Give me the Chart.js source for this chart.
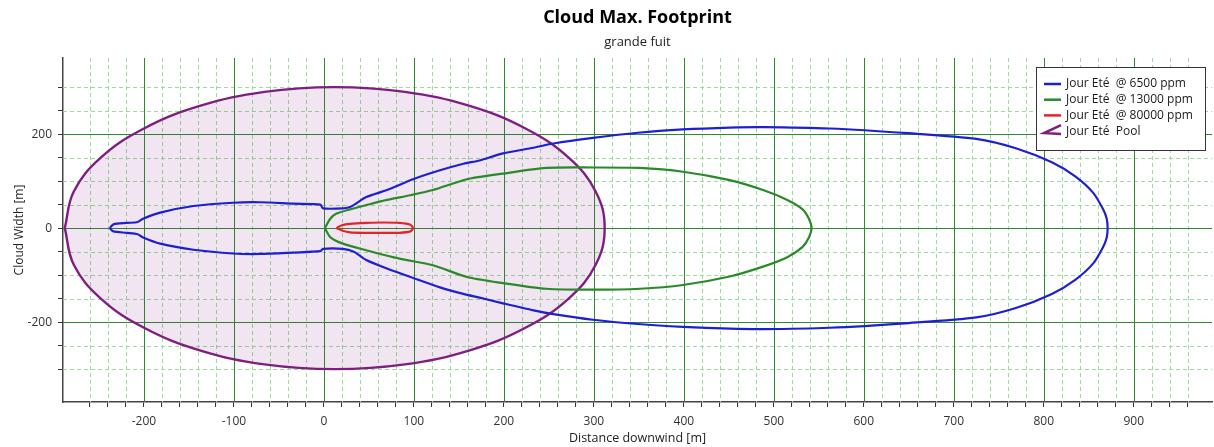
<!DOCTYPE html>
<html>
<head>
<meta charset="utf-8">
<title>Cloud Max. Footprint</title>
<script src="https://cdn.jsdelivr.net/npm/chart.js@4.4.1/dist/chart.umd.min.js"></script>
<style>
  html, body { margin: 0; padding: 0; background: #ffffff; }
  #wrap { width: 1214px; height: 447px; position: relative; }
</style>
</head>
<body>
<div id="wrap"><canvas id="chart" width="1214" height="447"></canvas></div>
<script>
// ---- Series labels ----
const seriesLabels = [
  'Jour Eté  @ 6500 ppm',
  'Jour Eté  @ 13000 ppm',
  'Jour Eté  @ 80000 ppm',
  'Jour Eté  Pool'
];

// ---- 6500 ppm contour (upper edge left→right, then lower edge right→left) ----
const c6500X = [-238, -234, -219, -207, -201, -182, -145, -101, -71, -34, -4, -1, 21, 29, 33, 47, 70, 99, 129, 155, 173, 199, 233, 255, 299, 349, 399, 451, 488, 562, 650, 725, 769, 809, 835, 855, 866, 870, 871,
                870, 866, 855, 835, 809, 769, 725, 650, 562, 488, 451, 399, 349, 299, 255, 233, 199, 173, 155, 129, 99, 70, 47, 33, 21, -1, -4, -34, -71, -101, -145, -182, -201, -207, -219, -234, -238];
const c6500Y = [0, 8, 11, 13, 20, 33, 47, 54, 55, 52, 50, 42, 42, 45, 49, 66, 81, 104, 123, 137, 144, 159, 171, 180, 192, 203, 210, 214, 215, 212, 202, 190, 170, 140, 110, 75, 40, 20, 0,
                -20, -40, -75, -110, -140, -170, -190, -202, -212, -215, -214, -210, -204, -195, -183, -175, -160, -148, -140, -126, -106, -86, -68, -50, -44, -44, -49, -52, -55, -54, -46, -33, -20, -13, -10, -7, 0];

// ---- 13000 ppm contour ----
const c13000X = [1, 7, 14, 29, 47, 70, 96, 121, 159, 199, 247, 299, 351, 399, 451, 488, 515, 532, 539, 542,
                 539, 532, 515, 488, 451, 399, 351, 299, 247, 199, 159, 121, 84, 47, 21, 7, 1];
const c13000Y = [0, 20, 31, 40, 49, 60, 70, 81, 104, 116, 128, 129, 128, 120, 102, 81, 60, 40, 20, 0,
                 -20, -40, -62, -82, -103, -121, -129, -131, -129, -117, -104, -79, -65, -47, -33, -19, 0];

// ---- 80000 ppm contour ----
const c80000X = [14, 20, 29, 47, 66, 84, 96, 99, 96, 84, 66, 47, 29, 20, 14];
const c80000Y = [0, 6, 9, 11, 12, 11, 7, 0, -7, -10, -10, -10, -9, -5, 0];

// ---- Pool outline ----
const poolX = [-288, -278, -248, -200, -138, -66, 12, 90, 162, 224, 272, 302, 312, 302, 272, 224, 162, 90, 12, -66, -138, -200, -248, -278, -288];
const poolY = [0, 78, 150, 212, 260, 290, 300, 290, 260, 212, 150, 78, 0, -78, -150, -212, -260, -290, -300, -290, -260, -212, -150, -78, 0];

// ---- Axis ranges, grid steps and tick labels ----
const xRange = [-290, 987];
const yRange = [-370, 362];
const xMinorStep = 20, xMajorStep = 100;
const yMinorStep = 50, yMajorStep = 200;
const xTickLabels = [-200, -100, 0, 100, 200, 300, 400, 500, 600, 700, 800, 900];
const yTickLabels = [-200, 0, 200];

const colors = ['#1f1fd2', '#2a8a2a', '#e0262a', '#7e1f80'];
const MAJOR_GRID = '#2f8a2f';
const MINOR_GRID = '#9edb9e';
const FONT = "'Open Sans', 'Noto Sans', 'DejaVu Sans', sans-serif";

const toPoints = (xs, ys) => xs.map((x, i) => ({ x: x, y: ys[i] }));
const isMult = (v, m) => Math.abs(v / m - Math.round(v / m)) < 1e-9;

const lineSet = (label, xs, ys, color, order, extra) => Object.assign({
  label: label,
  data: toPoints(xs, ys),
  showLine: true,
  borderColor: color,
  backgroundColor: color,
  borderWidth: 2.2,
  pointRadius: 0,
  pointHoverRadius: 0,
  tension: 0.25,
  order: order
}, extra || {});

// Grid: dashed minor lines at every scale tick, solid major lines on top
const plotGrid = {
  id: 'plotGrid',
  beforeDatasetsDraw(chart) {
    const { ctx, chartArea: ca, scales } = chart;
    const pass = (major) => {
      ctx.beginPath();
      scales.x.ticks.forEach(t => {
        if (isMult(t.value, xMajorStep) !== major) return;
        const px = Math.round(scales.x.getPixelForValue(t.value)) + 0.5;
        ctx.moveTo(px, ca.top);
        ctx.lineTo(px, ca.bottom);
      });
      scales.y.ticks.forEach(t => {
        if (isMult(t.value, yMajorStep) !== major) return;
        const py = Math.round(scales.y.getPixelForValue(t.value)) + 0.5;
        ctx.moveTo(ca.left, py);
        ctx.lineTo(ca.right, py);
      });
      ctx.stroke();
    };
    ctx.save();
    ctx.lineWidth = 1;
    ctx.strokeStyle = MINOR_GRID;
    ctx.setLineDash([4, 3]);
    pass(false);
    ctx.strokeStyle = MAJOR_GRID;
    ctx.setLineDash([]);
    pass(true);
    ctx.restore();
  }
};

// Legend box drawn inside the plot area, top-right
const boxLegend = {
  id: 'boxLegend',
  afterDraw(chart) {
    const ctx = chart.ctx;
    const ca = chart.chartArea;
    const w = 169, h = 83;
    const x0 = ca.right - 7 - w, y0 = ca.top + 9;
    ctx.save();
    ctx.fillStyle = '#ffffff';
    ctx.fillRect(x0, y0, w, h);
    ctx.strokeStyle = '#333333';
    ctx.lineWidth = 1;
    ctx.strokeRect(x0 + 0.5, y0 + 0.5, w, h);
    ctx.font = '12px ' + FONT;
    ctx.textBaseline = 'middle';
    ctx.textAlign = 'left';
    chart.data.datasets.forEach((ds, i) => {
      const y = y0 + 17 + i * 15.7;
      const lx = x0 + 8;
      ctx.strokeStyle = ds.borderColor;
      ctx.lineWidth = 2.5;
      ctx.beginPath();
      if (i === 3) {
        ctx.moveTo(lx + 17, y - 6);
        ctx.lineTo(lx, y + 2);
        ctx.lineTo(lx + 17, y + 3);
      } else {
        ctx.moveTo(lx, y);
        ctx.lineTo(lx + 17, y);
      }
      ctx.stroke();
      ctx.fillStyle = '#1a1a1a';
      ctx.fillText(ds.label, x0 + 30, y);
    });
    ctx.restore();
  }
};

const axisFont = { family: FONT, size: 12 };

new Chart(document.getElementById('chart'), {
  type: 'scatter',
  data: {
    datasets: [
      lineSet(seriesLabels[0], c6500X, c6500Y, colors[0], 1),
      lineSet(seriesLabels[1], c13000X, c13000Y, colors[1], 2),
      lineSet(seriesLabels[2], c80000X, c80000Y, colors[2], 3),
      lineSet(seriesLabels[3], poolX, poolY, colors[3], 4, {
        tension: 0.4,
        borderWidth: 2.4,
        fill: 'shape',
        backgroundColor: 'rgba(128, 20, 128, 0.11)'
      })
    ]
  },
  options: {
    responsive: false,
    animation: false,
    layout: { padding: { left: 0, right: 2, top: 0, bottom: 0 } },
    plugins: {
      legend: { display: false },
      tooltip: { enabled: false },
      title: {
        display: true,
        fullSize: false,
        text: 'Cloud Max. Footprint',
        color: '#000000',
        font: { family: FONT, size: 18, weight: 'bold' },
        padding: { top: 7, bottom: 3 }
      },
      subtitle: {
        display: true,
        fullSize: false,
        text: 'grande fuit',
        color: '#222222',
        font: { family: FONT, size: 13 },
        padding: { top: 2.6, bottom: 8.2 }
      }
    },
    scales: {
      x: {
        type: 'linear',
        position: 'bottom',
        min: xRange[0],
        max: xRange[1],
        afterBuildTicks: (s) => { s.ticks = s.ticks.filter(t => isMult(t.value, xMinorStep)); },
        afterFit: (s) => { s.height = 45; },
        ticks: {
          stepSize: xMinorStep,
          autoSkip: false,
          maxRotation: 0,
          padding: 7,
          color: '#333333',
          font: axisFont,
          callback: (v) => xTickLabels.includes(Math.round(v)) ? String(Math.round(v)) : ''
        },
        grid: {
          drawOnChartArea: false,
          tickColor: '#333333',
          tickLength: 5
        },
        border: { display: true, color: '#444444', width: 1.5 },
        title: {
          display: true,
          text: 'Distance downwind [m]',
          color: '#222222',
          font: { family: FONT, size: 12.5 },
          padding: { top: 0, bottom: 1 }
        }
      },
      y: {
        type: 'linear',
        position: 'left',
        min: yRange[0],
        max: yRange[1],
        afterBuildTicks: (s) => { s.ticks = s.ticks.filter(t => isMult(t.value, yMinorStep)); },
        afterFit: (s) => { s.width = 63; },
        ticks: {
          stepSize: yMinorStep,
          autoSkip: false,
          padding: 6,
          color: '#333333',
          font: axisFont,
          callback: (v) => yTickLabels.includes(Math.round(v)) ? String(Math.round(v)) : ''
        },
        grid: {
          drawOnChartArea: false,
          tickColor: '#333333',
          tickLength: 5
        },
        border: { display: true, color: '#444444', width: 1.5 },
        title: {
          display: true,
          text: 'Cloud Width [m]',
          color: '#222222',
          font: axisFont,
          padding: { top: 12, bottom: 0 }
        }
      }
    }
  },
  plugins: [plotGrid, boxLegend]
});
</script>
</body>
</html>
